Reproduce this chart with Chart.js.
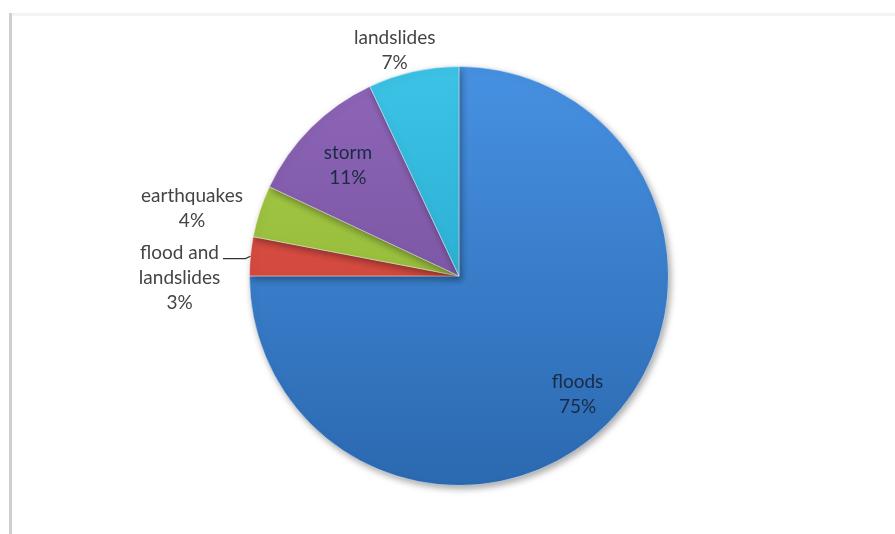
<!DOCTYPE html>
<html>
<head>
<meta charset="utf-8">
<script src="https://cdn.jsdelivr.net/npm/chart.js@4"></script>
<style>
  html, body { margin: 0; padding: 0; background: #fff; }
  #wrap { width: 895px; height: 534px; position: relative; }
</style>
</head>
<body>
<div id="wrap"><canvas id="piechart" width="895" height="534"></canvas></div>
<script>
const categories = ['floods', 'flood and landslides', 'earthquakes', 'storm', 'landslides'];
const labelLines = [['floods'], ['flood and', 'landslides'], ['earthquakes'], ['storm'], ['landslides']];
const shares = [75, 3, 4, 11, 7];

const lightColors = ['#4791e2', '#e5594f', '#a9cf4a', '#8e66b8', '#3cc3e6'];
const darkColors = ['#2b69b0', '#c0392f', '#86ab2d', '#6c4a94', '#1d9ec2'];

// label placement: distance from centre (x radius), extra pixel shift, inside or not
const labelStyle = [
  { k: 0.8, dx: 0, dy: 0, inside: true },
  { k: 1.34, dx: 0, dy: 28, inside: false, leader: true },
  { k: 1.3, dx: -8, dy: 17, inside: false },
  { k: 0.75, dx: 0, dy: 0, inside: true },
  { k: 1.1, dx: -14, dy: -1, inside: false }
];

const framePlugin = {
  id: 'frame',
  beforeDraw(chart) {
    const c = chart.ctx;
    c.save();
    c.fillStyle = '#f3f3f3';
    c.fillRect(10, 13, 885, 3);
    c.fillStyle = '#cfcfcf';
    c.fillRect(9, 13, 3, 521);
    c.restore();
  }
};

const shadowPlugin = {
  id: 'shadow',
  beforeDatasetDraw(chart) {
    const c = chart.ctx;
    c.save();
    c.shadowColor = 'rgba(0,0,0,0.35)';
    c.shadowBlur = 7;
    c.shadowOffsetX = 2;
    c.shadowOffsetY = 3;
  },
  afterDatasetDraw(chart) {
    chart.ctx.restore();
  }
};

const labelPlugin = {
  id: 'sliceLabels',
  afterDatasetsDraw(chart) {
    const c = chart.ctx;
    const arcs = chart.getDatasetMeta(0).data;
    c.save();
    c.font = '19px Lato, "Open Sans", sans-serif';
    c.textAlign = 'center';
    c.textBaseline = 'middle';
    arcs.forEach((arc, i) => {
      const st = labelStyle[i];
      const mid = (arc.startAngle + arc.endAngle) / 2;
      const r = arc.outerRadius;
      const x = arc.x + Math.cos(mid) * r * st.k + st.dx;
      const y = arc.y + Math.sin(mid) * r * st.k + st.dy;
      const lines = labelLines[i].concat([shares[i] + '%']);
      const lh = 25;
      const top = y - (lines.length - 1) * lh / 2;
      c.fillStyle = st.inside ? '#1b2a44' : '#444444';
      lines.forEach((t, j) => c.fillText(t, x, top + j * lh));
      if (st.leader) {
        const ex = arc.x + Math.cos(mid) * r;
        const ey = arc.y + Math.sin(mid) * r;
        const w = c.measureText(lines[0]).width;
        c.strokeStyle = '#333';
        c.lineWidth = 1.2;
        c.beginPath();
        c.moveTo(ex, ey);
        c.lineTo(ex - 5, top + 6);
        c.lineTo(x + w / 2 + 4, top + 6);
        c.stroke();
      }
    });
    c.restore();
  }
};

function sliceFill(ctx) {
  const chart = ctx.chart;
  const area = chart.chartArea;
  if (!area) return lightColors[ctx.dataIndex];
  const g = chart.ctx.createLinearGradient(0, area.top, 0, area.bottom);
  g.addColorStop(0, lightColors[ctx.dataIndex]);
  g.addColorStop(1, darkColors[ctx.dataIndex]);
  return g;
}

new Chart(document.getElementById('piechart'), {
  type: 'pie',
  plugins: [framePlugin, shadowPlugin, labelPlugin],
  data: {
    labels: categories,
    datasets: [{
      data: shares,
      backgroundColor: sliceFill,
      borderColor: 'rgba(255,255,255,0.45)',
      borderWidth: 1
    }]
  },
  options: {
    responsive: false,
    animation: false,
    layout: {
      padding: { left: 249, right: 226, top: 66, bottom: 48 }
    },
    plugins: {
      legend: { display: false },
      tooltip: { enabled: false }
    }
  }
});
</script>
</body>
</html>
